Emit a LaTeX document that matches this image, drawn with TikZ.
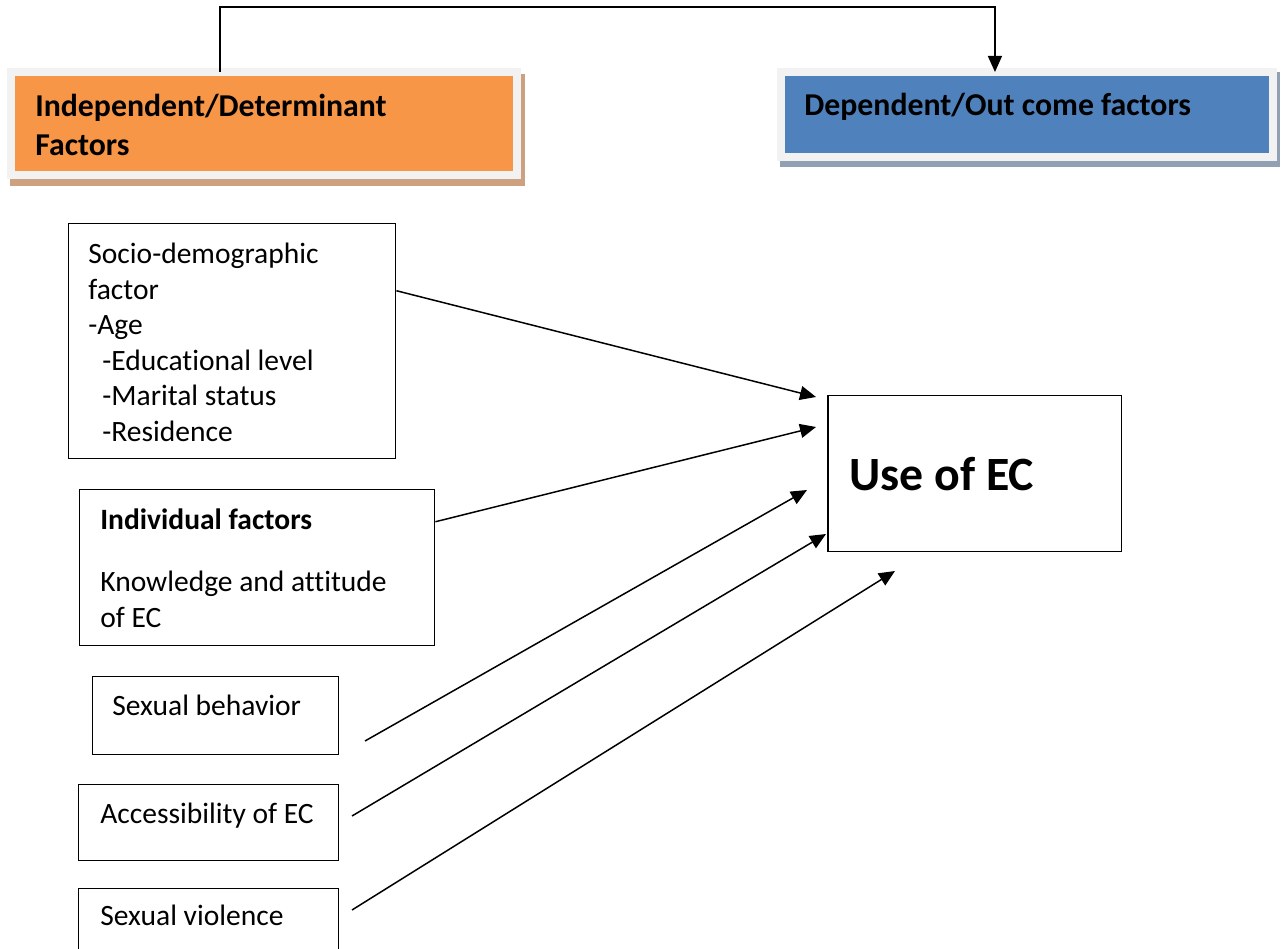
\documentclass[tikz,border=0pt]{standalone}
\usepackage{fontspec}
\setmainfont{Carlito}[Ligatures={NoCommon}]
\usetikzlibrary{positioning,arrows.meta}

\definecolor{indeporange}{HTML}{F79646}
\definecolor{depblue}{HTML}{4F81BD}
\definecolor{headframe}{HTML}{F2F2F2}
\definecolor{indepshadow}{RGB}{205,160,128}
\definecolor{depshadow}{RGB}{146,160,180}

\tikzset{
  headbox/.style={draw=headframe, line width=0.16cm, outer sep=0pt, inner sep=0pt, anchor=north west},
  headtext/.style={anchor=base west, inner sep=0pt, align=left, font=\fontsize{18.1}{22.2}\selectfont\bfseries},
  factorbox/.style={draw, line width=0.85pt, anchor=north west, inner sep=0pt},
  factortext/.style={anchor=base west, inner sep=0pt, align=left, font=\fontsize{16.8}{20.2}\selectfont},
  link/.style={-{Triangle[length=0.32cm,width=0.28cm]}, line width=0.85pt}
}

\begin{document}
\begin{tikzpicture}[x=0.02cm,y=-0.02cm]
\useasboundingbox (0,0) rectangle (1285,949);
% header boxes
\fill[indepshadow] (10,74) rectangle (525,186);
\fill[depshadow] (780,72) rectangle (1280,167);
\node[headbox, fill=indeporange, minimum width=10.13cm, minimum height=2.07cm] (indep) at (11,72) {};
\node[headbox, fill=depblue, minimum width=9.84cm, minimum height=1.70cm] (dep) at (781,72) {};
% base of a multi-line node = its last line
\node[headtext] (indeptext) at (35,156) {Independent/Determinant\\Factors};
\node[headtext] (deptext) at (804,116) {Dependent/Out come factors};
\draw[link] ([xshift=-0.885cm]indep.north) -- ++(0,-65) -| ([xshift=-0.64cm]dep.north);

% factors
\node[factorbox, minimum width=6.54cm, minimum height=4.7cm] (socio) at (68,223) {};
\node[factortext] (sociotext) at (88,441) {Socio-demographic\\factor\\-Age\\\hspace*{0.28cm}-Educational level\\\hspace*{0.28cm}-Marital status\\\hspace*{0.28cm}-Residence};
\node[factorbox, minimum width=7.1cm, minimum height=3.12cm] (indiv) at (79,489) {};
\node[factortext] (indivtext) at (100,627) {\bfseries Individual factors\\[0.53cm]Knowledge and attitude\\of EC};
\node[factorbox, minimum width=4.92cm, minimum height=1.56cm] (sexbeh) at (92,676) {};
\node[factortext] (sexbehtext) at (112,715) {Sexual behavior};
\node[factorbox, minimum width=5.2cm, minimum height=1.52cm] (access) at (78,784) {};
\node[factortext] (accesstext) at (100,823) {Accessibility of EC};
\node[factorbox, minimum width=5.2cm, minimum height=1.4cm] (violence) at (78,888) {};
\node[factortext] (violencetext) at (100,925) {Sexual violence};

% outcome
\node[factorbox, minimum width=5.88cm, minimum height=3.12cm] (use) at (827,395) {};
\node[anchor=base west, inner sep=0pt, font=\fontsize{27.2}{32}\selectfont\bfseries] (usetext) at (849,491) {Use of EC};

% arrows
\coordinate (tipsocio) at (816,397);
\coordinate (tipindiv) at (816,427);
\coordinate (startsex) at (365,741);
\coordinate (tipsex) at (807,490);
\coordinate (startaccess) at (352,816);
\coordinate (tipaccess) at (826,534);
\coordinate (startviol) at (352,910);
\coordinate (tipviol) at (895,571);
\draw[link] ([yshift=1.01cm]socio.east) -- (tipsocio);
\draw[link] ([yshift=0.92cm]indiv.east) -- (tipindiv);
\draw[link] (startsex) -- (tipsex);
\draw[link] (startaccess) -- (tipaccess);
\draw[link] (startviol) -- (tipviol);
\end{tikzpicture}
\end{document}
